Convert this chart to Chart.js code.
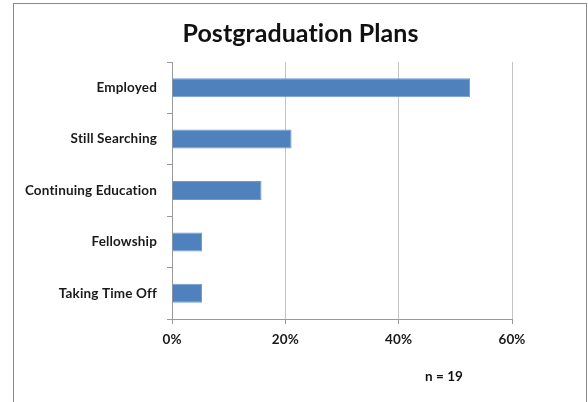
<!DOCTYPE html>
<html>
<head>
<meta charset="utf-8">
<script src="https://cdn.jsdelivr.net/npm/chart.js@4/dist/chart.umd.min.js"></script>
<style>
	html, body { margin: 0; padding: 0; background: #fff; }
	#wrap { position: relative; width: 588px; height: 402px; overflow: hidden; }
	#frame { position: absolute; left: 13px; top: 3px; width: 574px; height: 420px; border: 1.5px solid #8a8a8a; box-sizing: border-box; }
	#chart { position: absolute; left: 0; top: 0; }
</style>
</head>
<body>
<div id="wrap">
	<div id="frame"></div>
	<canvas id="chart" width="588" height="402"></canvas>
</div>
<script>
const chartTitle = 'Postgraduation Plans';
const categories = ['Employed', 'Still Searching', 'Continuing Education', 'Fellowship', 'Taking Time Off'];
const percents = [52.6, 21.1, 15.8, 5.3, 5.3];
const xTicks = [0, 20, 40, 60];
const sampleNote = 'n = 19';

const FONT = 'Lato, "Open Sans", sans-serif';

// small letter spacing also stops the "ti" ligature that Lato draws
const spacingPlugin = {
	id: 'spacingPlugin',
	beforeDraw(chart) {
		chart.ctx.letterSpacing = '0.15px';
	},
};

const textPlugin = {
	id: 'textPlugin',
	afterDraw(chart) {
		const ctx = chart.ctx;
		const area = chart.chartArea;
		ctx.save();
		ctx.fillStyle = '#111';
		ctx.textAlign = 'center';
		ctx.textBaseline = 'alphabetic';
		ctx.font = 'bold 25px ' + FONT;
		ctx.letterSpacing = '0.05px';
		ctx.fillText(chartTitle, 300.5, 42);
		ctx.textBaseline = 'middle';
		ctx.font = 'bold 13.5px ' + FONT;
		ctx.fillText(sampleNote, area.left + (area.right - area.left) * 0.8, 377);
		ctx.restore();
	},
};

new Chart(document.getElementById('chart'), {
	type: 'bar',
	data: {
		labels: categories,
		datasets: [{
			data: percents,
			backgroundColor: '#4f81bd',
			borderColor: '#6f9bd3',
			borderWidth: 1,
			categoryPercentage: 0.74,
			barPercentage: 0.5,
		}],
	},
	options: {
		indexAxis: 'y',
		responsive: false,
		animation: false,
		devicePixelRatio: 1,
		layout: { padding: { top: 62, right: 76, left: 0, bottom: 0 } },
		plugins: { legend: { display: false }, title: { display: false }, tooltip: { enabled: false } },
		scales: {
			x: {
				min: 0,
				max: 60,
				afterFit: (s) => { s.height = 83; },
				afterBuildTicks: (s) => { s.ticks = xTicks.map((v) => ({ value: v })); },
				ticks: {
					color: '#1a1a1a',
					font: { family: FONT, size: 13.5, weight: 'bold' },
					padding: 8,
					callback: (v) => v + '%',
				},
				grid: { color: '#c4c4c4', lineWidth: 1, tickLength: 5, tickColor: '#9a9a9a' },
				border: { color: '#9a9a9a' },
			},
			y: {
				afterFit: (s) => { s.width = 172; },
				ticks: {
					color: '#1a1a1a',
					font: { family: FONT, size: 13.5, weight: 'bold' },
					padding: 10,
				},
				grid: { offset: true, drawOnChartArea: false, tickLength: 5, color: '#9a9a9a' },
				border: { color: '#9a9a9a' },
			},
		},
	},
	plugins: [spacingPlugin, textPlugin],
});
</script>
</body>
</html>
